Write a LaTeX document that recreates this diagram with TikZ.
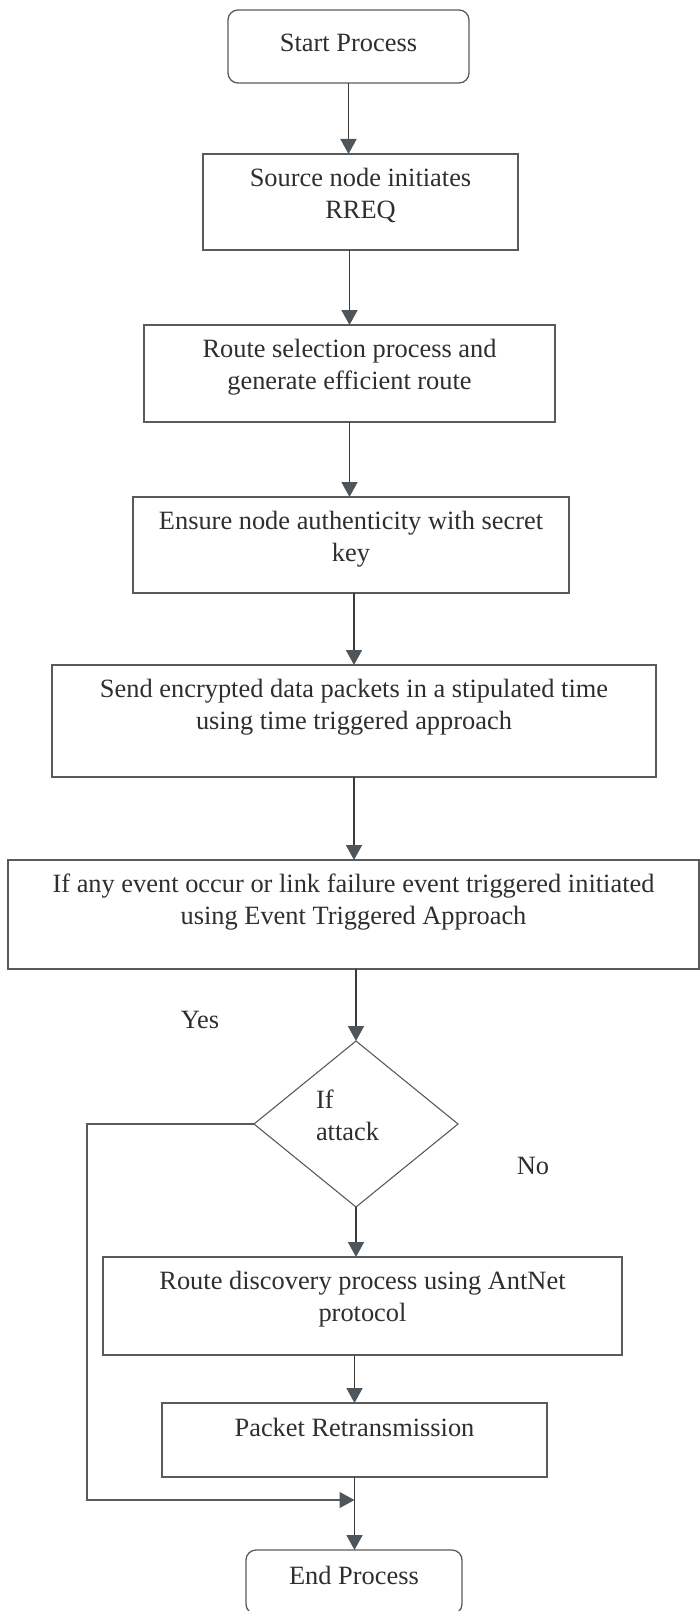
\documentclass[tikz,border=0pt]{standalone}
\usepackage{fontspec}
\setmainfont{Liberation Serif}
\usetikzlibrary{arrows.meta, positioning, shapes.geometric}
\definecolor{CLine}{HTML}{3A3A3A}
\definecolor{CEdge}{HTML}{5A5A5A}
\definecolor{CText}{HTML}{2E2E2E}
\definecolor{CTip}{HTML}{4E565C}

\begin{document}
\begin{tikzpicture}[
    x=0.5pt, y=-0.5pt,
    every node/.style={text=CText, font=\fontsize{13.2}{16}\selectfont},
    block/.style={rectangle, draw=CEdge, line width=0.65pt, outer sep=0pt, inner xsep=4pt, inner ysep=0pt, align=center, text height=32pt},
    term/.style={block, rounded corners=5pt, text height=19.5pt},
    decision/.style={diamond, draw=CEdge, line width=0.55pt, outer sep=0pt, inner sep=0pt, minimum width=102pt, minimum height=83pt, text width=40pt, align=left, text height=9pt, text depth=25pt},
    arrow/.style={-{Triangle[length=7.5pt, width=8pt, color=CTip]}, line width=0.85pt, draw=CLine},
    loopback/.style={-{Triangle[length=7.5pt, width=8pt, color=CTip]}, line width=0.6pt, draw=CEdge}
]
\useasboundingbox (0,0) rectangle (700,1611);

% Main column
\node[term, minimum width=120.5pt, text height=21pt, text depth=15.5pt, anchor=north] (start) at (348.5,10) {Start Process};
\node[block, minimum width=157.5pt, text depth=16pt, below=35.5pt of start, xshift=6pt] (source) {Source node initiates\\RREQ};
\node[block, minimum width=205.5pt, text depth=16.5pt, below=37.5pt of source, xshift=-5.5pt] (route) {Route selection process and\\generate efficient route};
\node[block, minimum width=218pt, text depth=16pt, below=37.5pt of route, xshift=0.75pt] (auth) {Ensure node authenticity with secret\\key};
\node[block, minimum width=302pt, text depth=24pt, below=36pt of auth, xshift=1.5pt] (send) {Send encrypted data packets in a stipulated time\\using time triggered approach};
\node[block, minimum width=345.5pt, text depth=22.5pt, below=41.5pt of send, xshift=-0.25pt] (event) {If any event occur or link failure event triggered initiated\\using Event Triggered Approach};

% Decision and lower part
\node[decision, below=36pt of event, xshift=1.25pt] (attack) {If\\attack};
\node[block, minimum width=259.5pt, text depth=17pt, below=25pt of attack, xshift=3.25pt] (discover) {Route discovery process using AntNet\\protocol};
\node[block, minimum width=192.5pt, text depth=20.5pt, text height=16.5pt, below=24pt of discover, xshift=-4pt] (retx) {Packet Retransmission};
\node[term, minimum width=108pt, text depth=15pt, text height=17pt, below=36.5pt of retx, xshift=-0.25pt] (stop) {End Process};
\coordinate[below=11.5pt of retx.south] (merge);

% Arrows
\draw[arrow] (start.south) -- (start.south |- source.north);
\draw[arrow] (route.north |- source.south) -- (route.north);
\draw[arrow] (route.south) -- (route.south |- auth.north);
\draw[arrow] (send.north |- auth.south) -- (send.north);
\draw[arrow] (send.south) -- (send.south |- event.north);
\draw[arrow] (event.south -| attack.north) -- (attack.north);
\draw[arrow] (attack.south) -- (attack.south |- discover.north);
\draw[arrow] (discover.south -| retx.north) -- (retx.north);
\draw[arrow] (retx.south) -- (retx.south |- stop.north);
\draw[loopback] (attack.west) -- ++(-167,0) |- (merge);

% Branch labels
\node (yes) at (200,1020) {Yes};
\node (no) at (533,1166) {No};
\end{tikzpicture}
\end{document}
